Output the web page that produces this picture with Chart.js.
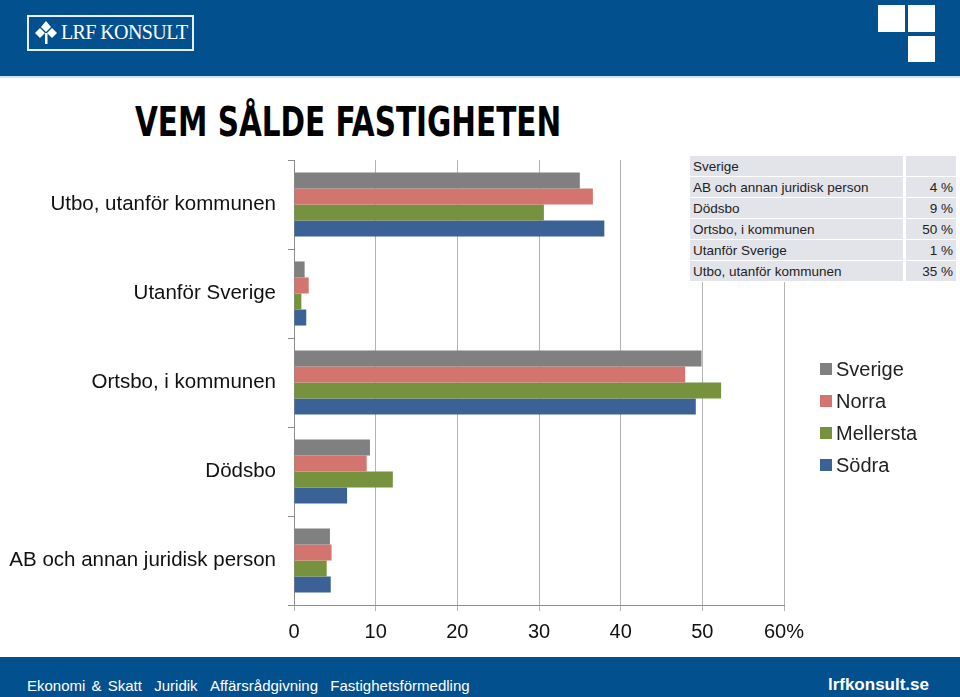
<!DOCTYPE html>
<html>
<head>
<meta charset="utf-8">
<script src="https://cdn.jsdelivr.net/npm/chart.js@4"></script>
<style>
  body { margin: 0; width: 960px; height: 697px; position: relative; overflow: hidden; background: #fff;
         font-family: 'Liberation Sans', Arial, sans-serif; }
  #header { position: absolute; left: 0; top: 0; width: 960px; height: 76px; background: #02508e;
            border-bottom: 2px solid #d6e2ee; }
  #logo { position: absolute; left: 27px; top: 15px; width: 163px; height: 32px; border: 2px solid #e8eef5; }
  #logo svg { position: absolute; left: 4px; top: 3px; }
  #logo span { position: absolute; left: 32px; top: 4px; color: #fff; font-family: 'Liberation Serif', serif;
               font-size: 20px; letter-spacing: -0.6px; }
  .sq { position: absolute; background: #fff; width: 27px; height: 27px; }
  #title { position: absolute; left: 135px; top: 99px; font-size: 40px; font-weight: bold; color: #000;
           font-family: 'DejaVu Sans Condensed', sans-serif; transform: scaleX(0.82); transform-origin: 0 0;
           white-space: nowrap; }
  #chartbox { position: absolute; left: 0; top: 150px; width: 830px; height: 500px; }
  #tbl { position: absolute; left: 690px; top: 155px; width: 266px; background: #fff; border-collapse: separate;
         border-spacing: 0 1px; font-size: 13.5px; color: #222; }
  #tbl td { background: #e3e4e9; height: 20px; padding: 0 3px; white-space: nowrap; }
  #tbl td.v { text-align: right; width: 44px; border-left: 3px solid #fff; }
  #legend { position: absolute; left: 820px; top: 356px; font-size: 20px; color: #222; }
  #legend div { height: 32px; line-height: 26px; }
  #legend i { display: inline-block; width: 12px; height: 12px; margin-right: 4px; vertical-align: 1px; }
  #footer { position: absolute; left: 0; top: 657px; width: 960px; height: 40px; background: #02508e; color: #fff; }
  #footer .l { position: absolute; left: 27px; top: 20px; font-size: 15px; word-spacing: 2px; }
  #footer .r { position: absolute; right: 31px; top: 18px; font-size: 17px; font-weight: bold; }
</style>
</head>
<body>
<div id="header">
  <div id="logo">
    <svg width="26" height="26" viewBox="0 0 26 26">
      <polygon points="13,1 18,7 13,12 8,7" fill="#fff"/>
      <polygon points="7,8 12,13 7,18 2,13" fill="#fff"/>
      <polygon points="19,8 24,13 19,18 14,13" fill="#fff"/>
      <rect x="12" y="13" width="2.5" height="11" fill="#fff"/>
    </svg>
    <span>LRF KONSULT</span>
  </div>
  <div class="sq" style="left:878px; top:5px;"></div>
  <div class="sq" style="left:908px; top:5px;"></div>
  <div class="sq" style="left:908px; top:36px; height:26px;"></div>
</div>
<div id="title">VEM SÅLDE FASTIGHETEN</div>
<div id="chartbox"><canvas id="myChart"></canvas></div>
<table id="tbl"></table>
<div id="legend"></div>
<div id="footer">
  <span class="l">Ekonomi &amp; Skatt &nbsp;Juridik &nbsp;Affärsrådgivning &nbsp;Fastighetsförmedling</span>
  <span class="r">lrfkonsult.se</span>
</div>
<script>
var categories = ['Utbo, utanför kommunen', 'Utanför Sverige', 'Ortsbo, i kommunen', 'Dödsbo', 'AB och annan juridisk person'];
var seriesNames = ['Sverige', 'Norra', 'Mellersta', 'Södra'];
var seriesColors = ['#808080', '#d3746f', '#76923c', '#3a6297'];
var sverige = [35.0, 1.3, 49.9, 9.3, 4.4];
var norra = [36.6, 1.8, 47.9, 8.9, 4.6];
var mellersta = [30.6, 0.9, 52.3, 12.1, 4.0];
var sodra = [38.0, 1.5, 49.2, 6.5, 4.5];
var xTicks = [0, 10, 20, 30, 40, 50, 60];

var allValues = [sverige, norra, mellersta, sodra];
var font = "'Liberation Sans', Arial, sans-serif";

// table of Sverige values, alphabetical like the original sheet
var tbl = document.getElementById('tbl');
var html = '<tr><td>Sverige</td><td class="v"></td></tr>';
for (var i = categories.length - 1; i >= 0; i--) {
  html += '<tr><td>' + categories[i] + '</td><td class="v">' + Math.round(sverige[i]) + ' %</td></tr>';
}
tbl.innerHTML = html;

var lg = '';
for (var s = 0; s < seriesNames.length; s++) {
  lg += '<div><i style="background:' + seriesColors[s] + '"></i>' + seriesNames[s] + '</div>';
}
document.getElementById('legend').innerHTML = lg;

var ctx = document.getElementById('myChart').getContext('2d');
var myChart = new Chart(ctx, {
  type: 'bar',
  data: {
    labels: categories,
    datasets: seriesNames.map(function (name, k) {
      return {
        label: name,
        data: allValues[k],
        backgroundColor: seriesColors[k],
        barPercentage: 1.0,
        categoryPercentage: 0.72
      };
    })
  },
  options: {
    indexAxis: 'y',
    responsive: true,
    maintainAspectRatio: false,
    animation: false,
    layout: { padding: { top: 10, right: 46, left: 0, bottom: 0 } },
    plugins: { legend: { display: false }, tooltip: { enabled: false } },
    scales: {
      x: {
        min: 0,
        max: 60,
        afterBuildTicks: function (axis) {
          axis.ticks = xTicks.map(function (v) { return { value: v }; });
        },
        afterFit: function (axis) { axis.height = 45; },
        grid: { color: '#b4b4b4', tickLength: 6 },
        border: { color: '#8c8c8c' },
        ticks: {
          padding: 9,
          color: '#111',
          font: { family: font, size: 20 },
          callback: function (v) { return v === 60 ? '60%' : v; }
        }
      },
      y: {
        afterFit: function (axis) { axis.width = 294; axis.paddingTop = 0; axis.paddingBottom = 0; },
        grid: { drawOnChartArea: false, tickLength: 6, color: '#8c8c8c', offset: true },
        border: { color: '#8c8c8c' },
        ticks: {
          padding: 12,
          color: '#111',
          font: { family: font, size: 20.5 }
        }
      }
    }
  }
});
</script>
</body>
</html>
